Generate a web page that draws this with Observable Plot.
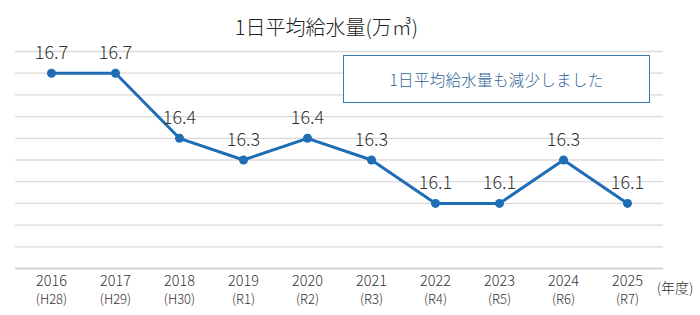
<!DOCTYPE html>
<html>
<head>
<meta charset="utf-8">
<script src="https://cdn.jsdelivr.net/npm/d3@7"></script>
<script src="https://cdn.jsdelivr.net/npm/@observablehq/plot@0.6"></script>
<style>
  html, body { margin: 0; padding: 0; background: #fff; }
  #wrap { position: relative; width: 700px; height: 315px; font-family: "Noto Sans CJK JP", "Noto Sans", sans-serif; }
  #callout {
    position: absolute; left: 343px; top: 55px; width: 305px; height: 46px;
    border: 1.5px solid #3b77ad; box-sizing: content-box;
    display: flex; align-items: center; justify-content: center;
    color: #2f6496; font-size: 15.5px; font-weight: 300; letter-spacing: 0.3px; background: #fff;
  }
</style>
</head>
<body>
<div id="wrap"><div id="callout">1日平均給水量も減少しました</div></div>
<script>
const years = ["2016", "2017", "2018", "2019", "2020", "2021", "2022", "2023", "2024", "2025"];
const eras = ["(H28)", "(H29)", "(H30)", "(R1)", "(R2)", "(R3)", "(R4)", "(R5)", "(R6)", "(R7)"];
const values = [16.7, 16.7, 16.4, 16.3, 16.4, 16.3, 16.1, 16.1, 16.3, 16.1];
const yTicks = [15.8, 15.9, 16.0, 16.1, 16.2, 16.3, 16.4, 16.5, 16.6, 16.7, 16.8];
const title = "1日平均給水量(万㎥)";
const unitLabel = "(年度)";

const data = years.map((y, i) => ({year: y, era: eras[i], value: values[i]}));
const eraOf = Object.fromEntries(years.map((y, i) => [y, eras[i]]));
const blue = "#1f6db5";

const chart = Plot.plot({
  width: 700,
  height: 315,
  marginTop: 51,
  marginBottom: 47,
  marginLeft: 15,
  marginRight: 37,
  style: {fontFamily: "'Noto Sans CJK JP', 'Noto Sans', sans-serif", background: "transparent", overflow: "visible"},
  x: {type: "point", domain: years, padding: 0.5, label: null},
  y: {domain: [15.8, 16.8], label: null},
  marks: [
    Plot.gridY(yTicks, {stroke: "#d9d9d9", strokeOpacity: 1, strokeWidth: 1.3}),
    Plot.ruleY([15.8], {stroke: "#cfcfcf", strokeWidth: 1.5}),
    Plot.axisX({tickSize: 0, tickPadding: 7, fontSize: 14.5, fontWeight: 300, fill: "#333", letterSpacing: 0.6}),
    Plot.axisX({tickSize: 0, tickPadding: 26, fontSize: 13, fontWeight: 300, fill: "#333",
      tickFormat: d => eraOf[d]}),
    Plot.axisY({ticks: [], label: null}),
    Plot.line(data, {x: "year", y: "value", stroke: blue, strokeWidth: 3}),
    Plot.dot(data, {x: "year", y: "value", r: 4.5, fill: blue}),
    Plot.text(data, {x: "year", y: "value", text: d => d.value.toFixed(1), dy: -20, fontSize: 18, fontWeight: 300, letterSpacing: 0.5, fill: "#333"}),
    Plot.text([title], {frameAnchor: "top", text: d => d, dy: -31, dx: -13, fontSize: 20, fontWeight: 300, fill: "#222"}),
    Plot.text([unitLabel], {frameAnchor: "bottom-right", text: d => d, dx: 30, dy: 24, fontSize: 14, fontWeight: 300, fill: "#333"})
  ]
});
document.getElementById("wrap").prepend(chart);
</script>
</body>
</html>
